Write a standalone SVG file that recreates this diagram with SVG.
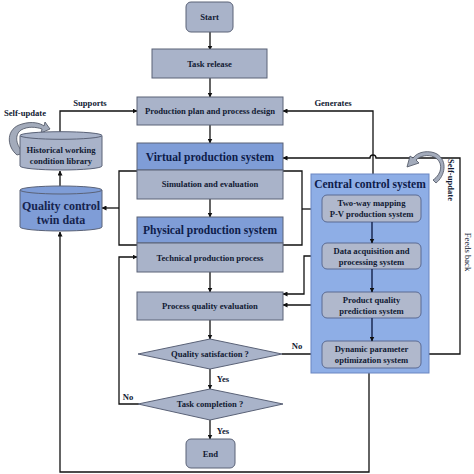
<svg xmlns="http://www.w3.org/2000/svg" width="474" height="474" viewBox="0 0 474 474">
<defs>
<style>
.t{font-family:"Liberation Serif","Times New Roman",serif;font-weight:bold;fill:#111a33;text-anchor:middle}
.s{font-size:8.6px}
.h{font-size:11.5px;fill:#0e1c4a}
.box{fill:#a9b3c9;stroke:#5a6277;stroke-width:1}
.hdr{fill:#7f9dd7;stroke:#5a6277;stroke-width:1}
.inner{fill:#b0b8cc;stroke:#5a6a92;stroke-width:1}
.c{fill:none;stroke:#111;stroke-width:1.3}
.cd{fill:none;stroke:#1a2a55;stroke-width:1.5}
.cur{fill:#a3abbb;stroke:#4a5060;stroke-width:0.8}
</style>
<marker id="a" viewBox="0 0 10 10" refX="9" refY="5" markerWidth="5" markerHeight="5" orient="auto-start-reverse" markerUnits="userSpaceOnUse">
<path d="M0,0 L10,5 L0,10 z" fill="#111"/>
</marker>
</defs>

<g id="connectors">
<path class="c" d="M210,32 V50" marker-end="url(#a)"/>
<path class="c" d="M210,78 V97" marker-end="url(#a)"/>
<path class="c" d="M210,125 V143" marker-end="url(#a)"/>
<path class="c" d="M210,199 V217" marker-end="url(#a)"/>
<path class="c" d="M210,272 V292" marker-end="url(#a)"/>
<path class="c" d="M210,320 V339" marker-end="url(#a)"/>
<path class="c" d="M210,369 V389" marker-end="url(#a)"/>
<path class="c" d="M210,420 V439" marker-end="url(#a)"/>
<path class="c" d="M60,132 V111 H137" marker-end="url(#a)"/>
<path class="c" d="M373,174 V111 H283" marker-end="url(#a)"/>
<path class="c" d="M421,354 H460 V158 H376 A3,3 0 0 0 370,158 H283" marker-end="url(#a)"/>
<path class="c" d="M137,171 H119 V245 H137"/>
<path class="c" d="M119,208 H102" marker-end="url(#a)"/>
<path class="c" d="M283,171 H302 V245 H283"/>
<path class="c" d="M302,209 H322" marker-end="url(#a)"/>
<path class="c" d="M322,256 H304 V294 H283" marker-end="url(#a)"/>
<path class="c" d="M322,305 H283" marker-end="url(#a)"/>
<path class="c" d="M282,354 H322" marker-end="url(#a)"/>
<path class="c" d="M139,404 H119 V257 H137" marker-end="url(#a)"/>
<path class="c" d="M369,373 V472 H60 V232" marker-end="url(#a)"/>
<path class="c" d="M60,186 V171" marker-end="url(#a)"/>
<text class="t s" x="90" y="106">Supports</text>
<text class="t s" x="333" y="106">Generates</text>
<text class="t s" x="297" y="349">No</text>
<text class="t s" x="128" y="400">No</text>
<text class="t s" x="223" y="382">Yes</text>
<text class="t s" x="223" y="434">Yes</text>
<text class="t s" transform="translate(448,180) rotate(90)">Self-update</text>
<text class="t s" style="font-weight:normal" transform="translate(465,252) rotate(90)">Feeds back</text>
</g>

<g id="start">
<rect class="box" x="186" y="2" width="47" height="30" rx="5"/>
<text class="t s" x="209.5" y="20">Start</text>
</g>
<g id="task-release">
<rect class="box" x="152" y="49" width="115" height="29"/>
<text class="t s" x="209.5" y="67">Task release</text>
</g>
<g id="production-plan">
<rect class="box" x="137" y="97" width="146" height="28"/>
<text class="t s" x="210" y="114">Production plan and process design</text>
</g>
<g id="virtual-production">
<rect class="hdr" x="137" y="143" width="146" height="27"/>
<rect class="box" x="137" y="170" width="146" height="29"/>
<text class="t h" x="210" y="161">Virtual production system</text>
<text class="t s" x="210" y="187">Simulation and evaluation</text>
</g>
<g id="physical-production">
<rect class="hdr" x="137" y="217" width="146" height="26"/>
<rect class="box" x="137" y="243" width="146" height="29"/>
<text class="t h" x="210" y="234">Physical production system</text>
<text class="t s" x="210" y="261">Technical production process</text>
</g>
<g id="process-quality">
<rect class="box" x="137" y="292" width="146" height="28"/>
<text class="t s" x="210" y="309">Process quality evaluation</text>
</g>
<g id="quality-satisfaction">
<polygon class="box" points="138,354 210,339 282,354 210,369"/>
<text class="t s" x="210" y="357">Quality satisfaction ?</text>
</g>
<g id="task-completion">
<polygon class="box" points="138,404 210,389 283,404 210,420"/>
<text class="t s" x="210" y="407">Task completion ?</text>
</g>
<g id="end">
<rect class="box" x="186" y="439" width="49" height="29" rx="5"/>
<text class="t s" x="210.5" y="457">End</text>
</g>

<g id="historical-library">
<path class="cur" d="M17,155 C6,146 6,128 22,124 C32,121 40,123 44,126 L45,122 L50,129 L41,133 L42,129 C36,127 28,126 21,130 C14,135 16,146 24,153 Z"/>
<text class="t s" x="25" y="116">Self-update</text>
<path class="box" d="M20,135.5 V166 A41,4 0 0 0 102,166 V135.5"/>
<ellipse class="box" cx="61" cy="135.5" rx="41" ry="3.8"/>
<text class="t s" x="61" y="153">Historical working</text>
<text class="t s" x="61" y="164">condition library</text>
</g>

<g id="twin-data">
<path class="hdr" d="M20,190 V227 A41,4 0 0 0 102,227 V190"/>
<ellipse class="hdr" cx="61" cy="190" rx="41" ry="4"/>
<text class="t" style="font-size:12px;fill:#16244f" x="61" y="210">Quality control</text>
<text class="t" style="font-size:12px;fill:#16244f" x="61" y="224">twin data</text>
</g>

<g id="central-control">
<rect x="311" y="174" width="118" height="199" fill="#8eaee6" stroke="#6a86c2" stroke-width="1"/>
<text class="t h" x="370" y="188">Central control system</text>
<path class="cur" d="M433,180 C442,174 444,162 434,157 C428,154 420,156 416,160 L419,163 L407,167 L410,156 L413,158 C418,151 430,150 437,154 C448,161 445,176 436,183 Z"/>
</g>
<g id="two-way-mapping">
<rect class="inner" x="322" y="195" width="99" height="27" rx="5"/>
<text class="t s" x="371.5" y="206">Two-way mapping</text>
<text class="t s" x="371.5" y="217">P-V production system</text>
</g>
<g id="data-acquisition">
<rect class="inner" x="322" y="243" width="99" height="26" rx="5"/>
<text class="t s" x="371.5" y="254">Data acquisition and</text>
<text class="t s" x="371.5" y="265">processing system</text>
</g>
<g id="product-quality">
<rect class="inner" x="322" y="292" width="99" height="26" rx="5"/>
<text class="t s" x="371.5" y="303">Product quality</text>
<text class="t s" x="371.5" y="314">prediction system</text>
</g>
<g id="dynamic-parameter">
<rect class="inner" x="322" y="341" width="99" height="27" rx="5"/>
<text class="t s" x="371.5" y="352">Dynamic parameter</text>
<text class="t s" x="371.5" y="363">optimization system</text>
</g>
<g id="inner-connectors">
<path class="cd" d="M372,222 V243" marker-end="url(#a)"/>
<path class="cd" d="M372,269 V292" marker-end="url(#a)"/>
<path class="cd" d="M372,318 V341" marker-end="url(#a)"/>
</g>
</svg>
